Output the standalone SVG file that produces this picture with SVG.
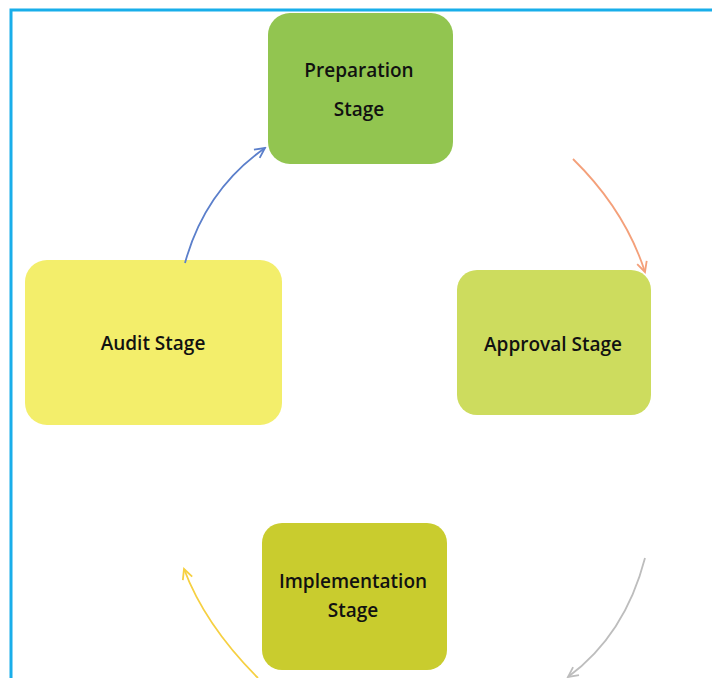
<svg xmlns="http://www.w3.org/2000/svg" width="712" height="678" viewBox="0 0 712 678">
<style>
.lbl{font-family:"Open Sans","Noto Sans","Liberation Sans",sans-serif;font-weight:600;font-size:19px;fill:#111;text-anchor:middle}
.con{fill:none;stroke-width:1.8}
</style>
<defs>
<marker id="mb" markerWidth="14" markerHeight="14" refX="0" refY="0" viewBox="-12 -7 14 14" orient="auto" markerUnits="userSpaceOnUse"><path d="M-10,-5 L0,0 L-10,5" fill="none" stroke="#5B7FCB" stroke-width="1.8"/></marker>
<marker id="mo" markerWidth="14" markerHeight="14" refX="0" refY="0" viewBox="-12 -7 14 14" orient="auto" markerUnits="userSpaceOnUse"><path d="M-10,-5 L0,0 L-10,5" fill="none" stroke="#F4A07A" stroke-width="1.8"/></marker>
<marker id="mg" markerWidth="14" markerHeight="14" refX="0" refY="0" viewBox="-12 -7 14 14" orient="auto" markerUnits="userSpaceOnUse"><path d="M-10,-5 L0,0 L-10,5" fill="none" stroke="#BDBDBD" stroke-width="1.8"/></marker>
<marker id="my" markerWidth="14" markerHeight="14" refX="0" refY="0" viewBox="-12 -7 14 14" orient="auto" markerUnits="userSpaceOnUse"><path d="M-10,-5 L0,0 L-10,5" fill="none" stroke="#F6D042" stroke-width="1.8"/></marker>
</defs>
<rect width="712" height="678" fill="#fff"/>
<g id="frame" stroke="#19AEEA" stroke-width="3" fill="none">
<path d="M11,678 L11,10 L712,10"/>
</g>
<g id="preparation">
<rect x="268" y="13" width="185" height="151" rx="22" fill="#92C550"/>
<text class="lbl" x="359" y="77">Preparation</text>
<text class="lbl" x="359" y="116">Stage</text>
</g>
<g id="approval">
<rect x="457" y="270" width="194" height="145" rx="20" fill="#CDDC5E"/>
<text class="lbl" x="553" y="351">Approval Stage</text>
</g>
<g id="audit">
<rect x="25" y="260" width="257" height="165" rx="22" fill="#F3EE6B"/>
<text class="lbl" x="153" y="350">Audit Stage</text>
</g>
<g id="implementation">
<rect x="262" y="523" width="185" height="147" rx="20" fill="#C9CC2E"/>
<text class="lbl" x="353" y="588">Implementation</text>
<text class="lbl" x="353" y="617">Stage</text>
</g>
<g id="connectors">
<path class="con" d="M185,263 Q205,190 265,148" stroke="#5B7FCB" marker-end="url(#mb)"/>
<path class="con" d="M573,159 Q625,210 645,272" stroke="#F4A07A" marker-end="url(#mo)"/>
<path class="con" d="M645,558 Q625,635 568,677" stroke="#BDBDBD" marker-end="url(#mg)"/>
<path class="con" d="M258,678 Q205,625 184,569" stroke="#F6D042" marker-end="url(#my)"/>
</g>
</svg>
